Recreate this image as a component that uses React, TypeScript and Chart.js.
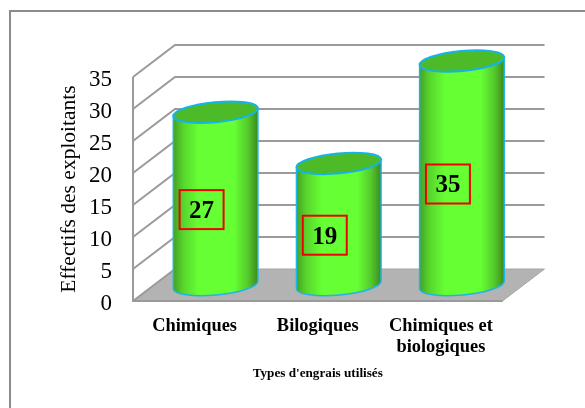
import React, { useEffect, useRef } from "react";
import { Chart, registerables } from "chart.js";

Chart.register(...registerables);

const categories = ["Chimiques", "Bilogiques", ["Chimiques et", "biologiques"]];
const effectifs = [27, 19, 35];
const yTicks = [0, 5, 10, 15, 20, 25, 30, 35];
const yTitle = "Effectifs des exploitants";
const xTitle = "Types d'engrais utilisés";

const SERIF = "'Liberation Serif', 'Times New Roman', serif";
const DEPTH_X = 42;
const DEPTH_Y = 32;
const GRID = "#9a9a9a";
const TILT = (-5.4 * Math.PI) / 180;

const cylinderPlugin = {
  id: "cylinder3d",
  beforeDatasetsDraw(chart: any) {
    const { ctx, chartArea: a, scales } = chart;
    const y = scales.y;
    ctx.save();
    ctx.fillStyle = "#b3b3b3";
    ctx.strokeStyle = "#a6a6a6";
    ctx.lineWidth = 1;
    ctx.beginPath();
    ctx.moveTo(a.left, a.bottom);
    ctx.lineTo(a.right, a.bottom);
    ctx.lineTo(a.right + DEPTH_X, a.bottom - DEPTH_Y);
    ctx.lineTo(a.left + DEPTH_X, a.bottom - DEPTH_Y);
    ctx.closePath();
    ctx.fill();
    ctx.stroke();
    ctx.strokeStyle = GRID;
    ctx.lineWidth = 2;
    for (const v of yTicks) {
      const py = y.getPixelForValue(v);
      ctx.beginPath();
      ctx.moveTo(a.left, py);
      ctx.lineTo(a.left + DEPTH_X, py - DEPTH_Y);
      if (v > 0) ctx.lineTo(a.right + DEPTH_X, py - DEPTH_Y);
      ctx.stroke();
    }
    ctx.beginPath();
    ctx.moveTo(a.left, a.top);
    ctx.lineTo(a.left, a.bottom);
    ctx.lineTo(a.right, a.bottom);
    ctx.stroke();
    ctx.restore();
  },
  afterDatasetsDraw(chart: any) {
    const { ctx } = chart;
    const bars = chart.getDatasetMeta(0).data;
    bars.forEach((bar: any, i: number) => {
      const cx = bar.x + DEPTH_X / 2;
      const top = bar.y - DEPTH_Y / 2;
      const base = bar.base - DEPTH_Y / 2;
      const rx = bar.width / 2;
      const ry = 10;
      const dx = rx * Math.cos(TILT);
      const dy = rx * Math.sin(TILT);
      const grad = ctx.createLinearGradient(cx - rx, 0, cx + rx, 0);
      grad.addColorStop(0, "#44a024");
      grad.addColorStop(0.12, "#58d52d");
      grad.addColorStop(0.3, "#66ff33");
      grad.addColorStop(0.72, "#66ff33");
      grad.addColorStop(0.88, "#55c92c");
      grad.addColorStop(1, "#3a8a1e");
      ctx.save();
      ctx.beginPath();
      ctx.moveTo(cx - dx, top - dy);
      ctx.lineTo(cx - dx, base - dy);
      ctx.ellipse(cx, base, rx, ry, TILT, Math.PI, 0, true);
      ctx.lineTo(cx + dx, top + dy);
      ctx.closePath();
      ctx.fillStyle = grad;
      ctx.fill();
      ctx.strokeStyle = "#1fb4e6";
      ctx.lineWidth = 1.5;
      ctx.stroke();
      ctx.beginPath();
      ctx.ellipse(cx, top, rx, ry, TILT, 0, Math.PI * 2);
      ctx.fillStyle = "#4dbb28";
      ctx.fill();
      ctx.strokeStyle = "#14b4ea";
      ctx.lineWidth = 2;
      ctx.stroke();

      const bx = bar.x + 7;
      const by = (bar.y + bar.base) / 2 - 5;
      ctx.strokeStyle = "#f00000";
      ctx.lineWidth = 2;
      ctx.strokeRect(bx - 22, by - 19.5, 44, 39);
      ctx.fillStyle = "#000";
      ctx.font = `bold 25px ${SERIF}`;
      ctx.textAlign = "center";
      ctx.textBaseline = "middle";
      ctx.fillText(String(effectifs[i]), bx, by + 2);
      ctx.restore();
    });
  },
  afterDraw(chart: any) {
    const { ctx, width, height } = chart;
    ctx.save();
    ctx.strokeStyle = "#8c8c8c";
    ctx.lineWidth = 2;
    ctx.beginPath();
    ctx.moveTo(10, height);
    ctx.lineTo(10, 11);
    ctx.lineTo(width, 11);
    ctx.stroke();
    ctx.restore();
  },
};

export default function App() {
  const ref = useRef<HTMLCanvasElement>(null);
  useEffect(() => {
    document.body.style.margin = "0";
    document.body.style.background = "#fff";
    const chart = new Chart(ref.current!, {
      type: "bar",
      data: {
        labels: categories as any,
        datasets: [
          {
            data: effectifs,
            backgroundColor: "rgba(0,0,0,0)",
            borderWidth: 0,
            categoryPercentage: 1,
            barPercentage: 0.69,
          },
        ],
      },
      options: {
        animation: false,
        responsive: false,
        layout: { padding: { left: 0, right: 82.5, top: 77, bottom: 0 } },
        plugins: { legend: { display: false }, tooltip: { enabled: false } },
        scales: {
          x: {
            grid: { display: false },
            border: { display: false },
            afterFit(axis: any) {
              axis.height = 107;
            },
            ticks: {
              color: "#000",
              padding: 7,
              maxRotation: 0,
              autoSkip: false,
              font: { family: SERIF, size: 18.4, weight: "bold", lineHeight: 1.14 },
            },
            title: {
              display: true,
              text: xTitle,
              color: "#000",
              padding: { top: 0, bottom: 26.5 },
              font: { family: SERIF, size: 13.2, weight: "bold" },
            },
          },
          y: {
            min: 0,
            max: 35,
            grid: { display: false, drawTicks: false },
            border: { display: false },
            afterFit(axis: any) {
              axis.width = 133;
            },
            afterBuildTicks(axis: any) {
              axis.ticks = yTicks.map((value) => ({ value }));
            },
            ticks: {
              color: "#000",
              padding: 21,
              labelOffset: 3,
              font: { family: SERIF, size: 23 },
            },
            title: {
              display: true,
              text: yTitle,
              color: "#000",
              padding: { top: 56, bottom: 0 },
              font: { family: SERIF, size: 21.5 },
            },
          },
        },
      },
      plugins: [cylinderPlugin],
    } as any);
    return () => chart.destroy();
  }, []);
  return <canvas ref={ref} width={585} height={408} style={{ display: "block" }} />;
}
